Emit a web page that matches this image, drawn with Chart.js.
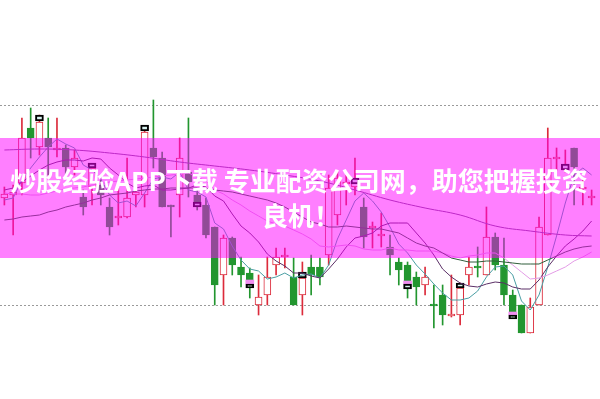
<!DOCTYPE html>
<html>
<head>
<meta charset="utf-8">
<script src="https://cdn.jsdelivr.net/npm/chart.js@4/dist/chart.umd.min.js"></script>
<style>
  html, body { margin: 0; padding: 0; background: #fff; }
  canvas { display: block; }
</style>
</head>
<body>
<canvas id="kchart" width="600" height="399"></canvas>
<script>
// daily candles, oldest first
const days = Array.from({ length: 68 }, (_, i) => 'D' + (i + 1));

const opens = [11.07, 11.10, 11.22, 11.77, 11.58, 11.67, 11.55, 11.57, 11.38, 11.08,
  11.18, 11.20, 10.98, 10.87, 10.88, 11.10, 11.10, 11.57, 11.47, 10.99,
  11.10, 11.33, 11.10, 11.00, 10.78, 10.30, 10.67, 10.38, 10.32, 10.00,
  10.10, 10.40, 10.48, 10.28, 10.10, 10.38, 10.38, 10.50, 10.90, 11.21,
  11.18, 10.98, 10.77, 10.69, 10.58, 10.43, 10.40, 10.28, 10.20, 10.00,
  10.10, 9.89, 9.90, 10.30, 10.38, 10.30, 10.68, 10.40, 10.10, 10.00,
  9.72, 10.00, 10.70, 11.46, 11.35, 11.57, 11.16, 11.07];
const highs = [11.18, 11.20, 11.87, 11.97, 11.90, 11.87, 11.87, 11.60, 11.55, 11.15,
  11.40, 11.25, 11.07, 11.17, 11.47, 11.23, 11.77, 12.05, 11.53, 11.00,
  11.67, 11.87, 11.15, 11.07, 10.78, 10.70, 10.68, 10.48, 10.37, 10.30,
  10.48, 10.57, 10.57, 10.47, 10.43, 10.50, 10.47, 11.30, 11.33, 11.30,
  11.47, 11.07, 10.83, 10.92, 10.70, 10.47, 10.43, 10.33, 10.38, 10.20,
  10.20, 10.30, 10.22, 10.48, 10.58, 10.98, 10.72, 10.67, 10.15, 10.00,
  10.07, 10.88, 11.77, 11.57, 11.55, 11.57, 11.27, 11.15];
const lows = [11.00, 10.70, 11.10, 11.47, 11.50, 11.30, 11.48, 11.30, 11.30, 10.90,
  11.00, 11.00, 10.70, 10.80, 10.87, 10.98, 10.98, 11.37, 10.98, 10.68,
  10.88, 11.08, 10.95, 10.67, 10.00, 10.00, 10.30, 10.18, 10.07, 9.90,
  10.00, 10.30, 10.37, 10.00, 9.90, 10.10, 10.20, 10.40, 10.80, 11.00,
  11.10, 10.57, 10.57, 10.58, 10.30, 10.20, 10.07, 10.00, 10.10, 9.77,
  9.80, 9.88, 9.80, 10.20, 10.28, 10.30, 10.35, 10.00, 9.87, 9.72,
  9.72, 10.00, 10.70, 11.35, 11.33, 11.00, 11.00, 11.00];
const closes = [11.11, 11.13, 11.67, 11.67, 11.83, 11.58, 11.57, 11.38, 11.47, 10.98,
  11.37, 11.10, 10.78, 10.89, 11.07, 11.13, 11.73, 11.48, 10.98, 10.98,
  11.47, 11.23, 11.00, 10.70, 10.20, 10.67, 10.40, 10.30, 10.25, 10.08,
  10.28, 10.48, 10.49, 10.00, 10.27, 10.30, 10.28, 11.17, 11.27, 11.23,
  11.23, 10.68, 10.79, 10.71, 10.50, 10.35, 10.24, 10.18, 10.28, 9.99,
  9.90, 9.90, 10.17, 10.38, 10.37, 10.68, 10.40, 10.10, 9.93, 9.72,
  9.98, 10.78, 11.47, 11.48, 11.37, 11.38, 11.17, 11.08];

// signal boxes shown every sixth session
const markTop = [null, null, null, null, 11.90, null, null, null, null, null,
  11.42, null, null, null, null, null, 11.80, null, null, null,
  null, null, 11.03, null, null, null, null, null, 10.21, null,
  null, null, null, null, 10.33, null, null, null, null, null,
  11.27, null, null, null, null, null, 10.21, null, null, null,
  null, null, 10.22, null, null, null, null, null, 9.90, null,
  null, null, null, null, 11.41, null, null, null];
const markBottom = [null, null, null, null, 11.84, null, null, null, null, null,
  11.37, null, null, null, null, null, 11.74, null, null, null,
  null, null, 10.98, null, null, null, null, null, 10.17, null,
  null, null, null, null, 10.27, null, null, null, null, null,
  11.21, null, null, null, null, null, 10.16, null, null, null,
  null, null, 10.17, null, null, null, null, null, 9.86, null,
  null, null, null, null, 11.35, null, null, null];
const pinkTop = { 28: 10.25, 46: 10.24, 58: 9.93 };
const pinkBottom = { 28: 10.21, 46: 10.21, 58: 9.90 };

const ma5 = [11.05, 11.07, 11.25, 11.37, 11.48, 11.58, 11.66, 11.61, 11.57, 11.40,
  11.35, 11.26, 11.10, 11.02, 11.04, 10.99, 11.12, 11.26, 11.28, 11.26,
  11.33, 11.15, 11.13, 11.08, 10.82, 10.76, 10.59, 10.45, 10.36, 10.34,
  10.26, 10.28, 10.32, 10.27, 10.30, 10.31, 10.27, 10.40, 10.66, 10.85,
  11.04, 11.12, 11.04, 10.93, 10.78, 10.61, 10.52, 10.40, 10.31, 10.21,
  10.12, 10.05, 10.05, 10.07, 10.14, 10.28, 10.38, 10.39, 10.30, 10.04,
  9.95, 10.10, 10.38, 10.69, 11.02, 11.30, 11.37, 11.30];
const ma10 = [11.15, 11.17, 11.23, 11.29, 11.35, 11.40, 11.43, 11.45, 11.45, 11.44,
  11.47, 11.46, 11.37, 11.30, 11.22, 11.17, 11.19, 11.20, 11.15, 11.15,
  11.16, 11.17, 11.20, 11.18, 11.09, 11.04, 10.91, 10.79, 10.72, 10.63,
  10.51, 10.44, 10.39, 10.32, 10.32, 10.29, 10.27, 10.36, 10.46, 10.58,
  10.67, 10.69, 10.72, 10.79, 10.82, 10.82, 10.82, 10.72, 10.62, 10.50,
  10.36, 10.28, 10.22, 10.19, 10.18, 10.21, 10.23, 10.22, 10.18, 10.16,
  10.16, 10.25, 10.38, 10.49, 10.59, 10.66, 10.74, 10.84];
const ma20 = [11.12, 11.11, 11.11, 11.10, 11.10, 11.12, 11.14, 11.16, 11.17, 11.18,
  11.20, 11.21, 11.23, 11.24, 11.25, 11.26, 11.27, 11.28, 11.29, 11.30,
  11.31, 11.32, 11.28, 11.24, 11.15, 11.11, 11.05, 11.00, 10.94, 10.89,
  10.84, 10.81, 10.79, 10.75, 10.71, 10.66, 10.59, 10.58, 10.59, 10.60,
  10.59, 10.56, 10.55, 10.55, 10.57, 10.55, 10.55, 10.54, 10.54, 10.54,
  10.52, 10.49, 10.47, 10.49, 10.50, 10.52, 10.52, 10.47, 10.40, 10.33,
  10.26, 10.27, 10.30, 10.34, 10.38, 10.44, 10.48, 10.53];
const ma30 = [10.85, 10.86, 10.88, 10.89, 10.90, 10.93, 10.95, 10.98, 11.00, 11.02,
  11.05, 11.07, 11.10, 11.11, 11.12, 11.14, 11.15, 11.16, 11.16, 11.17,
  11.17, 11.17, 11.17, 11.16, 11.15, 11.14, 11.13, 11.11, 11.09, 11.07,
  11.05, 11.02, 10.98, 10.93, 10.88, 10.83, 10.81, 10.78, 10.78, 10.79,
  10.78, 10.77, 10.76, 10.76, 10.74, 10.72, 10.67, 10.62, 10.59, 10.57,
  10.52, 10.47, 10.45, 10.43, 10.43, 10.44, 10.44, 10.43, 10.42, 10.41,
  10.41, 10.41, 10.45, 10.49, 10.53, 10.56, 10.58, 10.59];
// slow average, read every fourth session
const ma60 = { 0: 11.55, 4: 11.56, 8: 11.55, 12: 11.52, 16: 11.48, 20: 11.43, 24: 11.39,
  28: 11.35, 32: 11.30, 36: 11.24, 40: 11.15, 44: 11.05, 48: 10.97, 52: 10.90,
  56: 10.79, 60: 10.74, 64: 10.70, 67: 10.69 };

const guideLevels = [10, 12];
const bannerLines = ['炒股经验APP下载 专业配资公司网，助您把握投资', '良机！'];

const RED = '#dc2b3b';
const GREEN = '#22962f';
const isUp = closes.map((c, i) => c >= opens[i]);

// dotted guide lines behind the candles
const guides = {
  id: 'guides',
  beforeDatasetsDraw(chart) {
    const ctx = chart.ctx;
    const y = chart.scales.y;
    ctx.save();
    ctx.strokeStyle = '#9a9a9a';
    ctx.lineWidth = 1;
    ctx.setLineDash([2, 2]);
    guideLevels.forEach(v => {
      const py = Math.round(y.getPixelForValue(v)) + 0.5;
      ctx.beginPath();
      ctx.moveTo(0, py);
      ctx.lineTo(chart.width, py);
      ctx.stroke();
    });
    ctx.restore();
  }
};

// the pink advert strip laid over the chart
const banner = {
  id: 'banner',
  afterDraw(chart) {
    const ctx = chart.ctx;
    ctx.save();
    ctx.fillStyle = 'rgba(255, 0, 255, 0.5)';
    ctx.fillRect(0, 138, chart.width, 120);
    ctx.fillStyle = '#ffffff';
    ctx.textAlign = 'center';
    ctx.textBaseline = 'middle';
    let size = 26;
    ctx.font = `bold ${size}px "Noto Sans CJK SC", "Noto Sans", sans-serif`;
    const w = ctx.measureText(bannerLines[0]).width;
    size = size * 578 / w;
    ctx.font = `bold ${size.toFixed(1)}px "Noto Sans CJK SC", "Noto Sans", sans-serif`;
    ctx.fillText(bannerLines[0], 299, 181);
    ctx.fillText(bannerLines[1], 301, 216);
    ctx.restore();
  }
};

const lineSet = (label, data, color, extra) => Object.assign({
  type: 'line',
  label: label,
  data: data,
  borderColor: color,
  borderWidth: 1,
  pointRadius: 0,
  tension: 0,
  fill: false,
  order: 0
}, extra || {});

new Chart(document.getElementById('kchart'), {
  type: 'bar',
  data: {
    labels: days,
    datasets: [
      lineSet('MA60', days.map((d, i) => ma60[i] ?? null), '#7b4f8e', { spanGaps: true, tension: 0.4 }),
      lineSet('MA30', ma30, '#2f5d3a'),
      lineSet('MA20', ma20, '#e39be6'),
      lineSet('MA10', ma10, '#5b2f66'),
      lineSet('MA5', ma5, '#4a9ea3'),
      {
        label: 'mark',
        data: markTop.map((t, i) => t == null ? null : [markBottom[i], t]),
        backgroundColor: '#d8f2f0',
        borderColor: '#000000',
        borderWidth: 2,
        borderSkipped: false,
        barThickness: 8,
        grouped: false,
        order: 1
      },
      {
        label: 'markPink',
        data: days.map((d, i) => pinkTop[i] == null ? null : [pinkBottom[i], pinkTop[i]]),
        backgroundColor: '#f08ef0',
        borderWidth: 0,
        barThickness: 8,
        grouped: false,
        order: 1
      },
      {
        label: 'body',
        data: opens.map((o, i) => [o, closes[i]]),
        backgroundColor: isUp.map(u => u ? '#ffffff' : GREEN),
        borderColor: isUp.map(u => u ? RED : GREEN),
        borderWidth: 1,
        borderSkipped: false,
        barThickness: 7,
        minBarLength: 2,
        grouped: false,
        order: 2
      },
      {
        label: 'wick',
        data: lows.map((l, i) => [l, highs[i]]),
        backgroundColor: isUp.map(u => u ? RED : GREEN),
        borderWidth: 0,
        barThickness: 1,
        grouped: false,
        order: 3
      }
    ]
  },
  options: {
    responsive: false,
    animation: false,
    devicePixelRatio: 1,
    layout: { padding: { left: 0, right: 4, top: 0, bottom: 0 } },
    plugins: {
      legend: { display: false },
      tooltip: { enabled: false }
    },
    scales: {
      x: { display: false, offset: true },
      y: { display: false, min: 9.06, max: 13.05 }
    }
  },
  plugins: [guides, banner]
});
</script>
</body>
</html>
